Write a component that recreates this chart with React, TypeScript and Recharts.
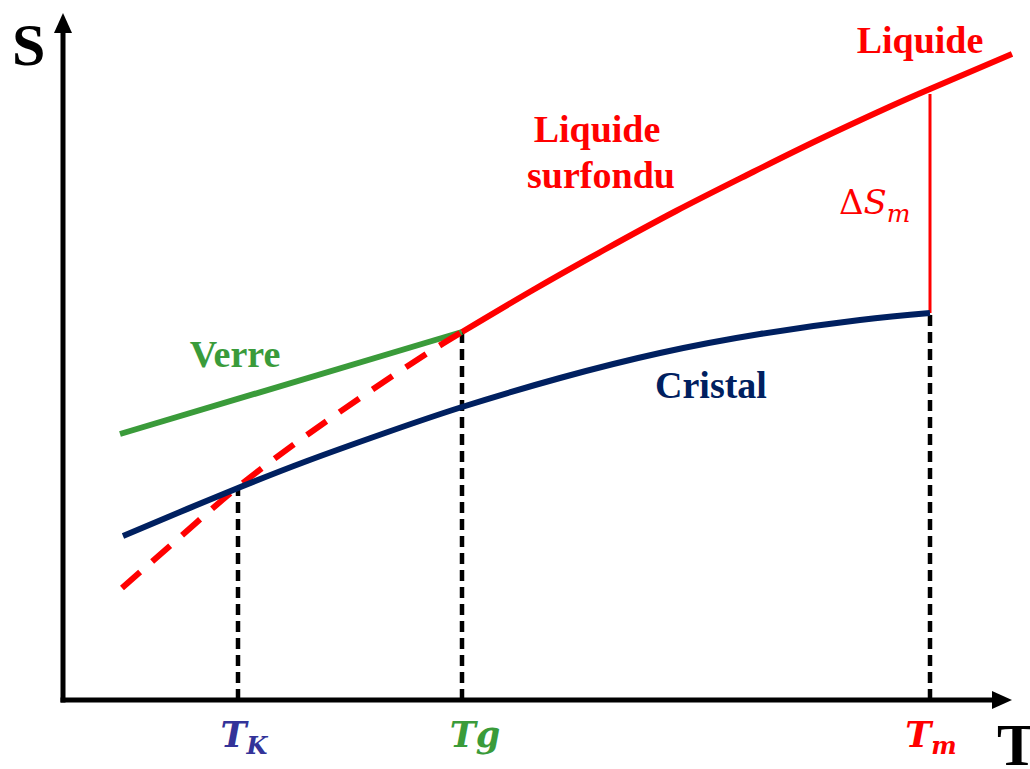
import React from 'react';
import { ComposedChart, Line, XAxis, YAxis, ReferenceDot, ReferenceLine } from 'recharts';

// Temperature (T) / entropy (S) values (arbitrary units)
const liquidT = [39.9, 47.0, 54.1, 61.3, 68.4, 75.5, 82.6, 86.7, 94.9];
const liquidS = [36.8, 41.0, 45.0, 48.9, 52.5, 56.0, 59.3, 61.1, 64.6];
const crystalT = [6.0, 11.7, 17.5, 24.4, 32.2, 39.9, 49.7, 59.7, 69.7, 79.7, 86.7];
const crystalS = [16.4, 18.8, 21.2, 23.9, 26.7, 29.3, 32.2, 34.7, 36.6, 38.0, 38.7];
const glassT = [5.7, 39.9];
const glassS = [26.6, 36.8];
const supercooledT = [5.9, 11.7, 17.5, 23.7, 29.7, 35.7, 39.9];
const supercooledS = [11.2, 16.3, 21.3, 26.0, 30.2, 34.2, 36.8];

// Characteristic temperatures (T_K, Tg, Tm) and entropies where the guides stop
const markT = [17.5, 39.9, 86.7];
const markS = [21.2, 36.8, 38.7];
const meltingS = [38.7, 60.6];

const T_MAX = 95;
const S_MAX = 69;

const RED = '#FF0000';
const NAVY = '#002060';
const GREEN = '#3A9B3A';
const VIOLET = '#333399';

const toPts = (ts: number[], ss: number[]) => ts.map((t, i) => ({ t, s: ss[i] }));

const liquid = toPts(liquidT, liquidS);
const crystal = toPts(crystalT, crystalS);
const glass = toPts(glassT, glassS);
const supercooled = toPts(supercooledT, supercooledS);
const guides = markT.map((t, i) => [
  { t, s: 0 },
  { t, s: markS[i] },
]);
const melting = toPts([markT[2], markT[2]], meltingS);

const serif = 'Liberation Serif, Times New Roman, serif';
const math = 'DejaVu Serif, serif';

type TextSpec = {
  t: number;
  s: number;
  anchor: 'start' | 'middle' | 'end';
  node: React.ReactNode;
};

const App = () => {
  const texts: TextSpec[] = [
    {
      t: -5.1,
      s: 63.5,
      anchor: 'start',
      node: <tspan fontFamily={serif} fontWeight="bold" fontSize={60} fill="#000">S</tspan>,
    },
    {
      t: 93.4,
      s: -6.5,
      anchor: 'start',
      node: <tspan fontFamily={serif} fontWeight="bold" fontSize={60} fill="#000">T</tspan>,
    },
    {
      t: 85.7,
      s: 64.7,
      anchor: 'middle',
      node: <tspan fontFamily={serif} fontWeight="bold" fontSize={38} fill={RED}>Liquide</tspan>,
    },
    {
      t: 53.4,
      s: 55.8,
      anchor: 'middle',
      node: <tspan fontFamily={serif} fontWeight="bold" fontSize={38} fill={RED}>Liquide</tspan>,
    },
    {
      t: 53.8,
      s: 51.2,
      anchor: 'middle',
      node: <tspan fontFamily={serif} fontWeight="bold" fontSize={38} fill={RED}>surfondu</tspan>,
    },
    {
      t: 17.2,
      s: 33.3,
      anchor: 'middle',
      node: <tspan fontFamily={serif} fontWeight="bold" fontSize={38} fill={GREEN}>Verre</tspan>,
    },
    {
      t: 64.8,
      s: 30.2,
      anchor: 'middle',
      node: <tspan fontFamily={serif} fontWeight="bold" fontSize={38} fill={NAVY}>Cristal</tspan>,
    },
    {
      t: 77.6,
      s: 48.6,
      anchor: 'start',
      node: (
        <>
          <tspan fontFamily={math} fontSize={34} fill={RED}>Δ</tspan>
          <tspan fontFamily={math} fontStyle="italic" fontSize={34} fill={RED}>S</tspan>
          <tspan fontFamily={math} fontStyle="italic" fontSize={25} fill={RED} dy={8}>m</tspan>
        </>
      ),
    },
    {
      t: 18.1,
      s: -4.7,
      anchor: 'middle',
      node: (
        <>
          <tspan fontFamily={math} fontStyle="italic" fontWeight="bold" fontSize={35} fill={VIOLET}>T</tspan>
          <tspan fontFamily={math} fontStyle="italic" fontWeight="bold" fontSize={24} fill={VIOLET} dy={7}>K</tspan>
        </>
      ),
    },
    {
      t: 41.2,
      s: -4.7,
      anchor: 'middle',
      node: <tspan fontFamily={math} fontStyle="italic" fontWeight="bold" fontSize={35} fill={GREEN}>Tg</tspan>,
    },
    {
      t: 86.8,
      s: -4.7,
      anchor: 'middle',
      node: (
        <>
          <tspan fontFamily={math} fontStyle="italic" fontWeight="bold" fontSize={35} fill={RED}>T</tspan>
          <tspan fontFamily={math} fontStyle="italic" fontWeight="bold" fontSize={24} fill={RED} dy={7}>m</tspan>
        </>
      ),
    },
  ];

  return (
    <div style={{ position: 'absolute', left: 0, top: 0, width: 1030, height: 769, background: '#fff' }}>
      <ComposedChart
        width={1030}
        height={769}
        margin={{ top: 10, right: 17, left: 63, bottom: 69 }}
      >
        <XAxis type="number" dataKey="t" domain={[0, T_MAX]} hide allowDataOverflow />
        <YAxis type="number" dataKey="s" domain={[0, S_MAX]} hide allowDataOverflow />

        {/* axes */}
        <ReferenceLine
          segment={[{ x: 0, y: 0 }, { x: 93.5, y: 0 }]}
          stroke="#000"
          strokeWidth={5}
          strokeLinecap="square"
          ifOverflow="visible"
        />
        <ReferenceLine
          segment={[{ x: 0, y: 0 }, { x: 0, y: 67.5 }]}
          stroke="#000"
          strokeWidth={5}
          strokeLinecap="square"
          ifOverflow="visible"
        />
        <ReferenceDot
          x={0}
          y={68.7}
          ifOverflow="visible"
          shape={(p: any) => (
            <polygon
              points={`${p.cx},${p.cy} ${p.cx - 9},${p.cy + 20} ${p.cx + 9},${p.cy + 20}`}
              fill="#000"
            />
          )}
        />
        <ReferenceDot
          x={94.9}
          y={0}
          ifOverflow="visible"
          shape={(p: any) => (
            <polygon
              points={`${p.cx},${p.cy} ${p.cx - 20},${p.cy - 9} ${p.cx - 20},${p.cy + 9}`}
              fill="#000"
            />
          )}
        />

        {/* vertical dashed guides */}
        {guides.map((g, i) => (
          <Line
            key={`g${i}`}
            data={g}
            dataKey="s"
            type="linear"
            stroke="#000"
            strokeWidth={4.5}
            strokeDasharray="11 6"
            dot={false}
            activeDot={false}
            isAnimationActive={false}
          />
        ))}

        {/* melting entropy jump */}
        <Line
          data={melting}
          dataKey="s"
          type="linear"
          stroke={RED}
          strokeWidth={3}
          dot={false}
          activeDot={false}
          isAnimationActive={false}
        />

        <Line
          data={glass}
          dataKey="s"
          type="linear"
          stroke={GREEN}
          strokeWidth={6}
          dot={false}
          activeDot={false}
          isAnimationActive={false}
        />
        <Line
          data={supercooled}
          dataKey="s"
          type="natural"
          stroke={RED}
          strokeWidth={6}
          strokeDasharray="24 16"
          dot={false}
          activeDot={false}
          isAnimationActive={false}
        />
        <Line
          data={liquid}
          dataKey="s"
          type="natural"
          stroke={RED}
          strokeWidth={6}
          dot={false}
          activeDot={false}
          isAnimationActive={false}
        />
        <Line
          data={crystal}
          dataKey="s"
          type="natural"
          stroke={NAVY}
          strokeWidth={6}
          dot={false}
          activeDot={false}
          isAnimationActive={false}
        />

        {texts.map((tx, i) => (
          <ReferenceDot
            key={`t${i}`}
            x={tx.t}
            y={tx.s}
            ifOverflow="visible"
            shape={(p: any) => (
              <text x={p.cx} y={p.cy} textAnchor={tx.anchor}>
                {tx.node}
              </text>
            )}
          />
        ))}
      </ComposedChart>
    </div>
  );
};

export default App;
